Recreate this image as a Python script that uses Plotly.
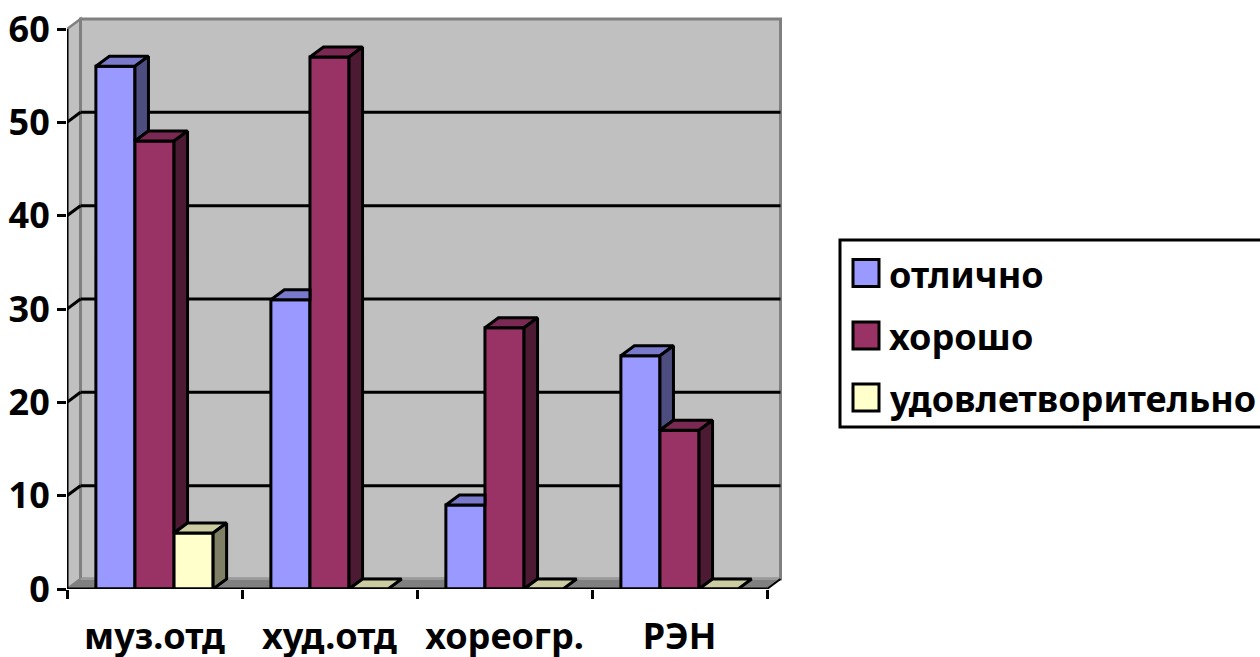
import plotly.graph_objects as go

categories = ["муз.отд", "худ.отд", "хореогр.", "РЭН"]
series_names = ["отлично", "хорошо", "удовлетворительно"]
excellent = [56, 31, 9, 25]
good = [48, 57, 28, 17]
satisfactory = [6, 0, 0, 0]
values = [excellent, good, satisfactory]
y_ticks = [0, 10, 20, 30, 40, 50, 60]

front_colors = ["#9999FF", "#993366", "#FFFFCC"]
top_colors = ["#7A7ACC", "#7A2952", "#CCCCA3"]
side_colors = ["#4D4D80", "#4D1A33", "#808066"]

W, H = 1260, 657
FONT = "Noto Sans"
LW = 3
x_left, x_end = 67, 767       # front axis pixel extents
y_zero, y_sixty = 589, 29
ppx = (x_end - x_left) / 4    # pixels per category
ppy = (y_zero - y_sixty) / 60 # pixels per value unit
dx = 13.5 / ppx
dz = 10 / ppy
pad = 3
gap = 0.33
bw = (1 - gap) / 3

x_lo, x_hi = -0.5, 3.5
x_range = [x_lo, x_hi + dx + pad / ppx]
y_range = [0, 60 + dz + pad / ppy]
x_dom = [x_left / W, (x_end + 13.5 + pad) / W]
y_dom = [(H - y_zero) / H, (H - (y_sixty - 10 - pad)) / H]

fig = go.Figure()

# Front faces
for name, vals, col in zip(series_names, values, front_colors):
    fig.add_trace(go.Bar(x=categories, y=vals, name=name, marker=dict(color=col, line=dict(color="black", width=LW)),
                         showlegend=False, xaxis="x", yaxis="y"))


def poly(xs, ys, col):
    fig.add_trace(go.Scatter(x=xs + xs[:1], y=ys + ys[:1], mode="lines", fill="toself", fillcolor=col,
                             line=dict(color="black", width=LW), xaxis="x2", yaxis="y",
                             showlegend=False, hoverinfo="skip"))


# Top and side faces, hidden parts left out
for c in range(len(categories)):
    for s, vals in enumerate(values):
        v = vals[c]
        nxt = values[s + 1][c] if s + 1 < len(values) else 0
        L = c - 0.5 + gap / 2 + s * bw
        R = L + bw
        if nxt > v:
            poly([L, L + dx, R, R], [v, v + dz, v + dz, v], top_colors[s])
        else:
            poly([L, L + dx, R + dx, R], [v, v + dz, v + dz, v], top_colors[s])
        if nxt < v:
            poly([R, R + dx, R + dx, R], [v, v + dz, nxt + dz, nxt], side_colors[s])

# Axis lines
fig.add_trace(go.Scatter(x=[x_lo, x_hi, None, x_lo, x_lo], y=[0, 0, None, 0, 60], mode="lines",
                         line=dict(color="black", width=LW), cliponaxis=False, xaxis="x2", yaxis="y",
                         showlegend=False, hoverinfo="skip"))

shapes = []
GR = "#808080"
WALL = "#C0C0C0"
# Walls
shapes.append(dict(type="path", xref="x2", yref="y", layer="below",
                   path=f"M{x_lo},0 L{x_lo+dx},{dz} L{x_lo+dx},{60+dz} L{x_lo},60 Z",
                   fillcolor=WALL, line=dict(color=GR, width=2.5)))
shapes.append(dict(type="rect", xref="x2", yref="y", layer="below", x0=x_lo + dx, x1=x_hi + dx, y0=dz, y1=60 + dz,
                   fillcolor=WALL, line=dict(color=GR, width=3)))
# Floor
shapes.append(dict(type="path", xref="x2", yref="y", layer="below",
                   path=f"M{x_lo},0 L{x_lo+dx},{dz} L{x_hi+dx},{dz} L{x_hi},0 Z",
                   fillcolor=GR, line=dict(color=GR, width=1)))
shapes.append(dict(type="line", xref="x2", yref="y", layer="below", x0=x_lo + dx, x1=x_hi + dx, y0=dz, y1=dz,
                   line=dict(color="#9A9A9A", width=2)))
# Gridlines
for t in y_ticks[1:-1]:
    shapes.append(dict(type="line", xref="x2", yref="y", layer="below", x0=x_lo + dx, x1=x_hi + dx, y0=t + dz, y1=t + dz,
                       line=dict(color="black", width=LW)))
    shapes.append(dict(type="line", xref="x2", yref="y", layer="below", x0=x_lo, x1=x_lo + dx, y0=t, y1=t + dz,
                       line=dict(color="black", width=LW)))
shapes.append(dict(type="line", xref="x2", yref="y", layer="below", x0=x_hi, x1=x_hi + dx, y0=0, y1=dz,
                   line=dict(color="black", width=2)))


def px(x):
    return x / W


def py(y):
    return (H - y) / H


# Legend box
shapes.append(dict(type="rect", xref="paper", yref="paper", x0=px(840), x1=px(1275), y0=py(427), y1=py(240),
                   fillcolor="white", line=dict(color="black", width=LW)))
annotations = []
rows = [273, 335.5, 397.5]
for name, col, yc in zip(series_names, front_colors, rows):
    shapes.append(dict(type="rect", xref="paper", yref="paper", x0=px(853), x1=px(879), y0=py(yc + 13.5), y1=py(yc - 13.5),
                       fillcolor=col, line=dict(color="black", width=LW)))
    annotations.append(dict(xref="paper", yref="paper", x=px(887), y=py(yc + 1), xanchor="left", yanchor="middle",
                            text=f"<b>{name}</b>", showarrow=False, font=dict(family=FONT, size=36, color="black")))

fig.update_layout(
    width=W, height=H, margin=dict(l=0, r=0, t=0, b=0), paper_bgcolor="white", plot_bgcolor="rgba(0,0,0,0)",
    barmode="group", bargap=gap, bargroupgap=0, shapes=shapes, annotations=annotations,
    font=dict(family=FONT, size=36, color="black"),
    xaxis=dict(domain=x_dom, type="category", categoryorder="array", categoryarray=categories, range=x_range,
               tickson="boundaries", ticks="outside", ticklen=9, tickwidth=LW, tickcolor="black", showgrid=False,
               zeroline=False, showline=False, ticklabelstandoff=23, automargin=False,
               tickfont=dict(family=FONT, size=36, weight="bold"), anchor="y"),
    xaxis2=dict(domain=x_dom, overlaying="x", range=x_range, visible=False, anchor="y", automargin=False),
    yaxis=dict(domain=y_dom, range=y_range, tickvals=y_ticks, ticks="outside", ticklen=9, tickwidth=LW, tickcolor="black",
               showgrid=False, zeroline=False, showline=False, ticklabelstandoff=0, automargin=False,
               tickfont=dict(family=FONT, size=36, weight="bold"), anchor="x"),
)

fig.write_html("out.html", post_script="document.body.style.margin='0';", config=dict(displayModeBar=False))
